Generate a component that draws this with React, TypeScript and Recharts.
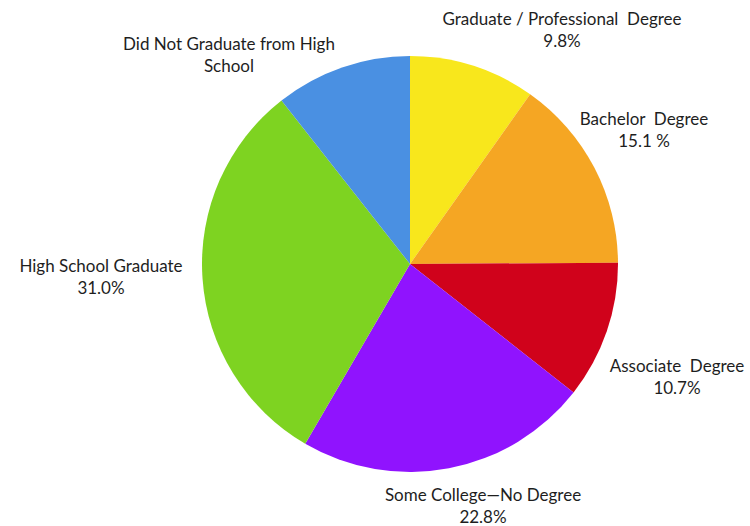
import React from 'react';
import { PieChart, Pie, Cell } from 'recharts';

const categories = [
  'Graduate / Professional Degree',
  'Bachelor Degree',
  'Associate Degree',
  'Some College—No Degree',
  'High School Graduate',
  'Did Not Graduate from High School',
];
const shares = [9.8, 15.1, 10.7, 22.8, 31.0, 10.6];
const labelLines = [
  ['Graduate / Professional  Degree', '9.8%'],
  ['Bachelor  Degree', '15.1 %'],
  ['Associate  Degree', '10.7%'],
  ['Some College—No Degree', '22.8%'],
  ['High School Graduate', '31.0%'],
  ['Did Not Graduate from High', 'School'],
];

const colors = ['#F8E71C', '#F5A623', '#D0021B', '#9013FE', '#7ED321', '#4A90E2'];
// label anchor (first line centre) relative to the pie centre
const labelOffset: [number, number][] = [
  [152, -246],
  [234, -146],
  [267, 101],
  [73, 230],
  [-309, 1],
  [-181, -221],
];

const data = categories.map((name, i) => ({ name, value: shares[i] }));

const renderLabel = (props: any) => {
  const { cx, cy, index } = props;
  const [dx, dy] = labelOffset[index];
  const lines = labelLines[index];
  return (
    <text
      key={`lbl-${index}`}
      x={cx + dx}
      y={cy + dy}
      textAnchor="middle"
      dominantBaseline="central"
      fill="#1e1e1e"
      fontSize={17}
      fontFamily="Lato, 'Open Sans', sans-serif"
      style={{ whiteSpace: 'pre' }}
    >
      {lines.map((line, i) => (
        <tspan key={i} x={cx + dx} dy={i === 0 ? 0 : 22}>
          {line}
        </tspan>
      ))}
    </text>
  );
};

export default function App() {
  return (
    <div style={{ position: 'absolute', left: 0, top: 0, width: 750, height: 526, background: '#fff' }}>
      <PieChart width={750} height={526} margin={{ top: 0, right: 0, bottom: 0, left: 0 }}>
        <Pie
          data={data}
          dataKey="value"
          nameKey="name"
          cx={410}
          cy={264}
          outerRadius={208}
          startAngle={90}
          endAngle={-270}
          stroke="none"
          label={renderLabel}
          labelLine={false}
          isAnimationActive={false}
        >
          {data.map((d, i) => (
            <Cell key={d.name} fill={colors[i]} />
          ))}
        </Pie>
      </PieChart>
    </div>
  );
}
